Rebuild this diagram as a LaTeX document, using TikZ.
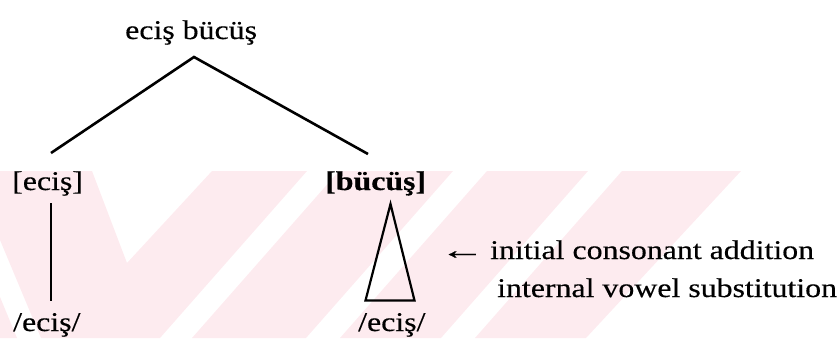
\documentclass[tikz,border=0pt]{standalone}
\usepackage{graphicx}
\usepackage{fontspec}
\setmainfont{Liberation Serif}[FakeStretch=1.18, FakeBold=0.4]
\definecolor{wmpink}{RGB}{253,235,239}
\begin{document}
\begin{tikzpicture}[x=1pt,y=-1pt,
  lbl/.style={anchor=base west, inner sep=0pt, font=\fontsize{27}{32}\selectfont},
  branch/.style={line width=2.6pt},
  stem/.style={line width=2pt},
  cone/.style={line width=2.2pt, line join=miter},
  wm/.style={fill=wmpink, draw=none}]
\useasboundingbox (0,0) rectangle (839,338);

% faint background bands
\fill[wm] (0,171) -- (92,171) -- (127,263) -- (212,171) -- (307,171)
          -- (160,338) -- (41,338) -- (0,240) -- cycle;
\fill[wm] (0,297) -- (17,338) -- (0,338) -- cycle;
\fill[wm] (339,171) -- (453,171) -- (306,338) -- (192,338) -- cycle;
\fill[wm] (487,171) -- (588,171) -- (441,338) -- (340,338) -- cycle;
\fill[wm] (622,171) -- (741,171) -- (586,338) -- (475,338) -- cycle;

% labels
\node[lbl] (root) at (125,39) {eciş bücüş};
\node[lbl] (left) at (12,190) {[eciş]};
\node[lbl, font=\fontsize{27}{32}\selectfont\bfseries] (right) at (325,190) {[bücüş]};
\node[lbl] (leftform) at (13,331) {/eciş/};
\node[lbl] (rightform) at (358,331) {/eciş/};
\node[lbl] (noteA) at (490,259) {\llap{\scalebox{1.43}[1]{←}\hspace{5pt}}initial consonant addition};
\node[lbl] (noteB) at (497,297) {internal vowel substitution};

% branch points
\coordinate (apex) at (194,57);
\coordinate (leftarm) at (51,153);
\coordinate (rightarm) at (368,154);
\coordinate (stemtop) at (51,203);
\coordinate (stembot) at (51,301);
\coordinate (conetop) at (390.5,204);
\coordinate (coneL) at (365.5,300.5);
\coordinate (coneR) at (414.5,300.5);

% tree
\draw[branch] (leftarm) -- (apex) -- (rightarm);
\draw[stem] (stemtop) -- (stembot);
\draw[cone] (conetop) -- (coneR) -- (coneL) -- cycle;
\end{tikzpicture}
\end{document}
